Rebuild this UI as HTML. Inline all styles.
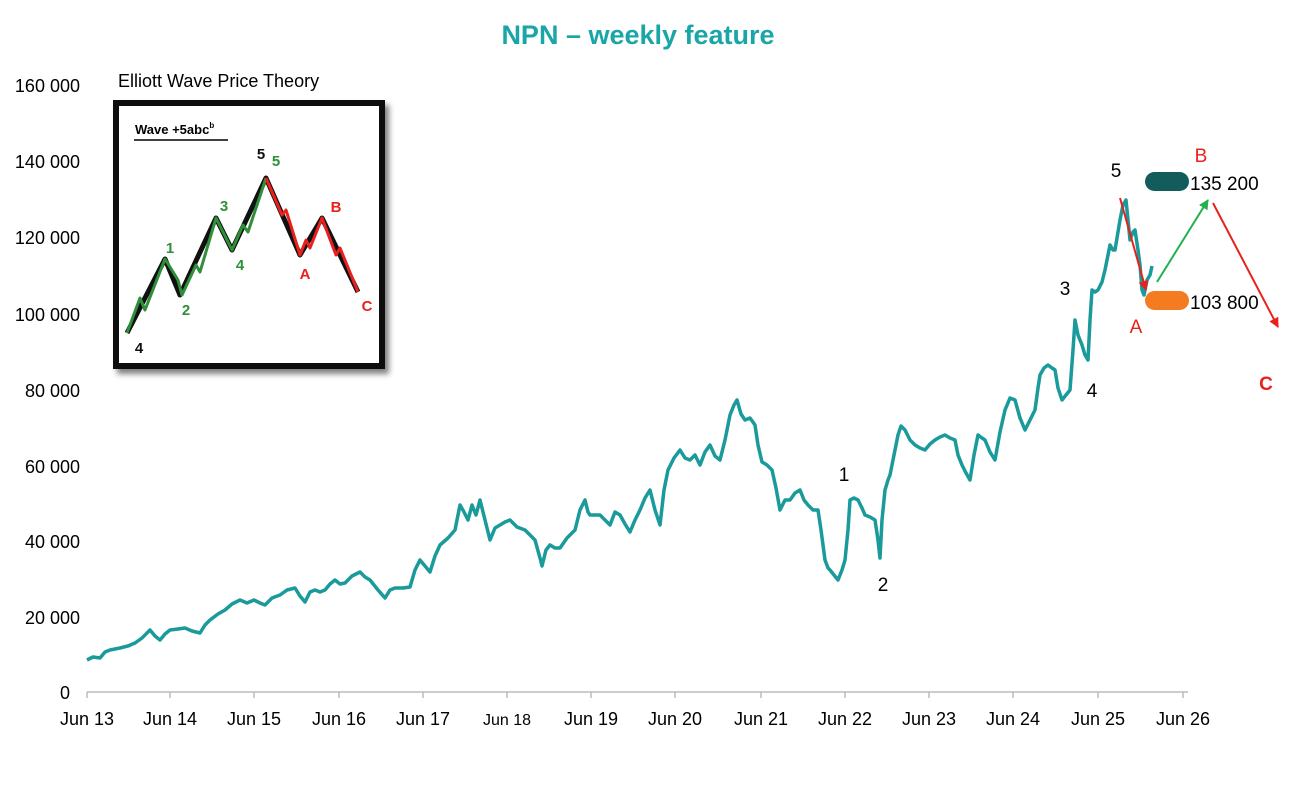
<!DOCTYPE html>
<html><head><meta charset="utf-8"><style>
body{margin:0;background:#fff;}
svg text{font-family:"Liberation Sans",Arial,sans-serif;}
</style></head><body>
<svg width="1300" height="780" viewBox="0 0 1300 780" xmlns="http://www.w3.org/2000/svg">
<defs>
<marker id="ar" viewBox="0 0 10 10" refX="9" refY="5" markerWidth="5" markerHeight="5" orient="auto"><path d="M0,0L10,5L0,10z" fill="#e8211d"/></marker>
<marker id="ag" viewBox="0 0 10 10" refX="9" refY="5" markerWidth="5" markerHeight="5" orient="auto"><path d="M0,0L10,5L0,10z" fill="#22b14c"/></marker>
<filter id="sh"><feDropShadow dx="4" dy="5" stdDeviation="3" flood-opacity="0.5"/></filter>
</defs>
<text x="638" y="44" text-anchor="middle" font-size="27" font-weight="bold" fill="#1aa6a6">NPN – weekly feature</text>
<g font-size="18" fill="#000" text-anchor="end">
<text x="80" y="92">160 000</text><text x="80" y="168">140 000</text><text x="80" y="244">120 000</text>
<text x="80" y="321">100 000</text><text x="80" y="397">80 000</text><text x="80" y="473">60 000</text>
<text x="80" y="548">40 000</text><text x="80" y="624">20 000</text><text x="70" y="699">0</text>
</g>
<line x1="87" y1="692" x2="1188" y2="692" stroke="#bbb" stroke-width="1.5"/>
<g stroke="#bbb" stroke-width="1.5">
<line x1="87" y1="692" x2="87" y2="698"/><line x1="170" y1="692" x2="170" y2="698"/><line x1="254" y1="692" x2="254" y2="698"/><line x1="339" y1="692" x2="339" y2="698"/><line x1="423" y1="692" x2="423" y2="698"/><line x1="507" y1="692" x2="507" y2="698"/><line x1="591" y1="692" x2="591" y2="698"/><line x1="675" y1="692" x2="675" y2="698"/><line x1="761" y1="692" x2="761" y2="698"/><line x1="845" y1="692" x2="845" y2="698"/><line x1="929" y1="692" x2="929" y2="698"/><line x1="1013" y1="692" x2="1013" y2="698"/><line x1="1098" y1="692" x2="1098" y2="698"/><line x1="1183" y1="692" x2="1183" y2="698"/>
</g>
<g font-size="18" fill="#000" text-anchor="middle">
<text x="87" y="725">Jun 13</text><text x="170" y="725">Jun 14</text><text x="254" y="725">Jun 15</text><text x="339" y="725">Jun 16</text><text x="423" y="725">Jun 17</text><text x="507" y="725" font-size="16">Jun 18</text><text x="591" y="725">Jun 19</text><text x="675" y="725">Jun 20</text><text x="761" y="725">Jun 21</text><text x="845" y="725">Jun 22</text><text x="929" y="725">Jun 23</text><text x="1013" y="725">Jun 24</text><text x="1098" y="725">Jun 25</text><text x="1183" y="725">Jun 26</text>
</g>
<polyline fill="none" stroke="#1a9a9a" stroke-width="3.5" stroke-linejoin="round" points="87,660 93,657 100,658 105,652 110,650 115,649 120,648 128,646 135,643 142,638 150,630 155,636 160,640 165,634 170,630 178,629 185,628 192,631 200,633 205,625 210,620 218,614 225,610 232,604 240,600 247,603 254,600 260,603 265,605 272,598 280,595 287,590 295,588 300,596 305,602 310,592 315,590 320,592 325,590 330,584 335,580 340,584 345,583 352,576 360,572 365,577 370,580 378,590 385,598 390,590 395,588 403,588 410,587 415,570 420,560 425,566 430,572 435,556 440,545 448,538 455,530 460,505 464,512 468,520 472,505 476,515 480,500 485,520 490,540 495,528 500,525 505,522 510,520 517,527 525,530 530,535 535,540 540,558 542,566 546,550 550,545 555,548 560,548 567,538 575,530 580,510 585,500 588,512 590,515 595,515 600,515 605,520 610,525 615,512 620,515 625,524 630,532 635,520 640,510 645,498 650,490 655,510 660,525 664,490 668,470 674,458 680,450 685,458 690,460 695,455 700,465 705,452 710,445 715,456 720,460 725,440 730,415 734,405 737,400 741,414 745,420 750,418 755,425 758,445 762,462 767,465 772,470 776,488 780,510 785,500 790,500 795,493 800,490 804,500 808,505 813,510 818,510 821,530 825,560 828,568 830,570 834,575 838,580 842,570 845,560 848,530 850,500 854,498 858,500 862,508 865,515 870,517 875,520 878,540 880,558 882,520 885,490 888,480 890,475 894,455 898,435 901,426 905,430 910,440 915,445 920,448 925,450 930,444 935,440 940,437 945,435 950,438 955,440 958,455 962,465 966,473 970,480 974,455 978,435 982,438 985,440 990,452 995,460 1000,432 1005,410 1010,398 1015,400 1020,418 1025,430 1030,420 1035,410 1038,388 1040,375 1044,368 1048,365 1052,368 1055,370 1058,388 1062,400 1066,395 1070,390 1073,350 1075,320 1078,335 1082,345 1085,355 1088,360 1090,320 1092,290 1095,292 1098,290 1102,282 1105,270 1108,255 1110,245 1113,250 1115,250 1118,232 1120,220 1123,205 1126,200 1128,220 1130,240 1133,232 1135,230 1138,250 1140,265 1142,290 1144,295 1147,280 1150,275 1152,266"/>
<line x1="1120" y1="198" x2="1146" y2="290" stroke="#e8211d" stroke-width="2" marker-end="url(#ar)"/>
<line x1="1157" y1="282" x2="1208" y2="200" stroke="#22b14c" stroke-width="2" marker-end="url(#ag)"/>
<line x1="1213" y1="203" x2="1278" y2="327" stroke="#e8211d" stroke-width="2" marker-end="url(#ar)"/>
<rect x="1145" y="172" width="44" height="19" rx="9.5" fill="#135c5c"/>
<rect x="1145" y="291" width="44" height="19" rx="9.5" fill="#f47b20"/>
<g font-size="19" fill="#000">
<text x="1190" y="190">135 200</text><text x="1190" y="309">103 800</text>
<text x="1116" y="177" text-anchor="middle">5</text>
<text x="1065" y="295" text-anchor="middle">3</text>
<text x="1092" y="397" text-anchor="middle">4</text>
<text x="844" y="481" text-anchor="middle">1</text>
<text x="883" y="591" text-anchor="middle">2</text>
</g>
<g font-size="19" fill="#e8211d" text-anchor="middle">
<text x="1201" y="162">B</text><text x="1136" y="333">A</text><text x="1266" y="390" font-weight="bold">C</text>
</g>
<text x="118" y="87" font-size="18" fill="#000">Elliott Wave Price Theory</text>
<rect x="116" y="103" width="266" height="263" fill="#fff" stroke="#111" stroke-width="6" filter="url(#sh)"/>
<text x="135" y="134" font-size="13" font-weight="bold">Wave +5abc<tspan font-size="8" dy="-6">b</tspan></text>
<line x1="134" y1="140" x2="228" y2="140" stroke="#000" stroke-width="1.5"/>
<polyline fill="none" stroke="#111" stroke-width="5" stroke-linejoin="round" points="127,333 165,259 180,295 216,218 232,250 266,178 300,255 322,218 358,292"/>
<polyline fill="none" stroke="#2f8f3a" stroke-width="3" stroke-linejoin="round" points="127,333 140,298 145,310 165,259 178,280 182,295 196,265 200,272 216,218 226,238 232,250 243,225 248,232 266,178"/>
<polyline fill="none" stroke="#e8211d" stroke-width="3" stroke-linejoin="round" points="266,178 282,215 286,210 300,255 306,240 310,248 322,218 336,255 340,248 358,292"/>
<g font-size="15" font-weight="bold" text-anchor="middle">
<text x="139" y="353" fill="#111">4</text><text x="170" y="253" fill="#2f8f3a">1</text><text x="186" y="315" fill="#2f8f3a">2</text>
<text x="224" y="211" fill="#2f8f3a">3</text><text x="240" y="270" fill="#2f8f3a">4</text><text x="261" y="159" fill="#111">5</text><text x="276" y="166" fill="#2f8f3a">5</text>
<text x="336" y="212" fill="#e8211d">B</text><text x="305" y="279" fill="#e8211d">A</text><text x="367" y="311" fill="#e8211d">C</text>
</g>
</svg>
</body></html>
